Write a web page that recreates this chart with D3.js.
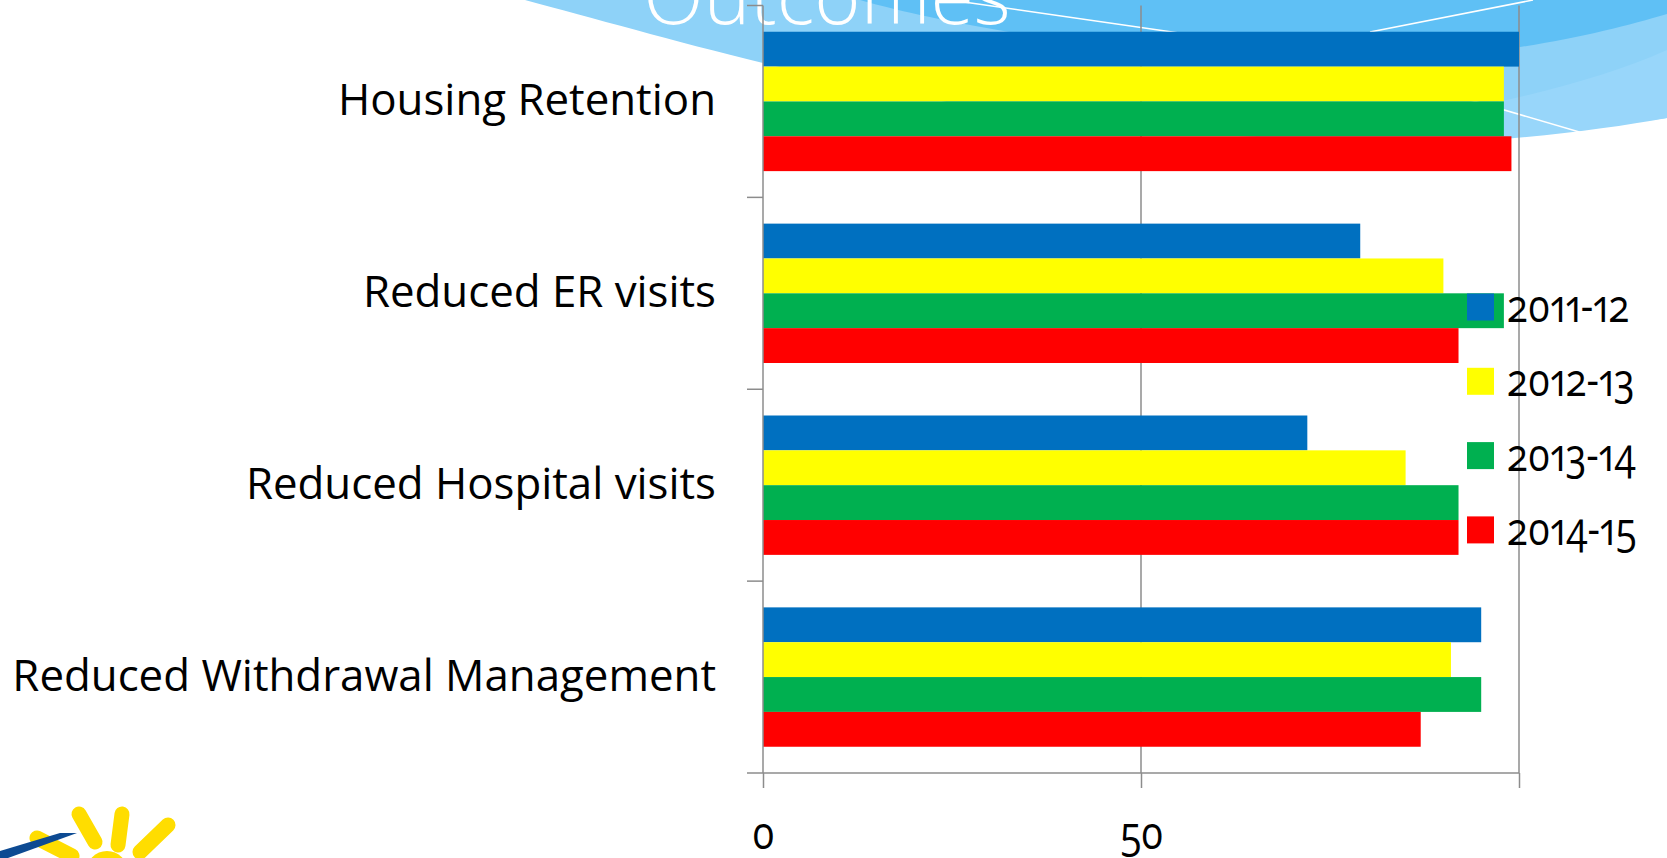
<!DOCTYPE html>
<html>
<head>
<meta charset="utf-8">
<script src="https://cdn.jsdelivr.net/npm/d3@7"></script>
<style>
  html, body { margin: 0; padding: 0; background: #fff; }
  svg { display: block; font-family: "Open Sans", "DejaVu Sans", sans-serif; }
</style>
</head>
<body>
<svg id="chart"></svg>
<script>
// ── DATA ─────────────────────────────────────────────────────────────────
const categories = [
  "Housing Retention",
  "Reduced ER visits",
  "Reduced Hospital visits",
  "Reduced Withdrawal Management"
];
const seriesNames = ["2011-12", "2012-13", "2013-14", "2014-15"];
const values2011 = [100, 79, 72, 95];
const values2012 = [98, 90, 85, 91];
const values2013 = [98, 98, 92, 95];
const values2014 = [99, 92, 92, 87];
const xTicks = [0, 50, 100];
const titleText = "Outcomes";

const COLORS = ["#0070c0", "#ffff00", "#00b050", "#ff0000"];
const GRID = "#8c8c8c";

// ── DIMENSIONS ───────────────────────────────────────────────────────────
const W = 1667, H = 858;
const plot = { left: 763, right: 1519, top: 5.5, bottom: 773 };

const svg = d3.select("#chart")
  .attr("width", W)
  .attr("height", H)
  .attr("viewBox", `0 0 ${W} ${H}`);

// ── BACKGROUND WAVE ──────────────────────────────────────────────────────
const bg = svg.append("g");
bg.append("path")
  .attr("d", "M525,0 C760,62 1150,190 1667,118 L1667,0 Z")
  .attr("fill", "#8ed2f8");
bg.append("path")
  .attr("d", "M1400,120 C1500,105 1600,80 1667,50 L1667,118 C1600,130 1520,140 1400,146 Z")
  .attr("fill", "#98d6fa");
bg.append("path")
  .attr("d", "M860,0 C1000,40 1300,80 1520,47 C1580,38 1630,25 1667,14 L1667,0 Z")
  .attr("fill", "#5fc0f5");
bg.append("path")
  .attr("d", "M950,0 L1200,36")
  .attr("stroke", "#fff").attr("stroke-width", 1.5).attr("fill", "none");
bg.append("path")
  .attr("d", "M1370,32 L1533,0")
  .attr("stroke", "#fff").attr("stroke-width", 1.5).attr("fill", "none");
bg.append("path")
  .attr("d", "M1460,97 L1593,136")
  .attr("stroke", "#fff").attr("stroke-width", 1.5).attr("fill", "none");

// title (cut off at the top)
svg.append("text")
  .attr("x", 827)
  .attr("y", 24)
  .attr("text-anchor", "middle")
  .attr("fill", "#fff")
  .style("font-size", "79px")
  .style("font-weight", 300)
  .text(titleText);

// ── LOGO (bottom left) ───────────────────────────────────────────────────
const logo = svg.append("g");
const rays = [
  [37, 838, 72, 856],
  [79, 814, 95, 842],
  [122, 814, 118, 845],
  [168, 825, 140, 852]
];
rays.forEach(r => {
  logo.append("line")
    .attr("x1", r[0]).attr("y1", r[1]).attr("x2", r[2]).attr("y2", r[3])
    .attr("stroke", "#ffdd00").attr("stroke-width", 15)
    .attr("stroke-linecap", "round");
});
logo.append("circle").attr("cx", 107).attr("cy", 872).attr("r", 21).attr("fill", "#ffdd00");
logo.append("polygon")
  .attr("points", "0,851 60,833 77,833 8,858 0,858")
  .attr("fill", "#0d4a92");

// ── SCALES ───────────────────────────────────────────────────────────────
const pad = 0.2736;
const y = d3.scaleBand()
  .domain(categories)
  .range([plot.top, plot.bottom])
  .paddingInner(pad)
  .paddingOuter(pad / 2);

const ySub = d3.scaleBand()
  .domain(seriesNames)
  .range([0, y.bandwidth()]);

const x = d3.scaleLinear()
  .domain([0, 100])
  .range([plot.left, plot.right]);

const g = svg.append("g");

// ── GRID ─────────────────────────────────────────────────────────────────
g.append("g")
  .selectAll("line")
  .data(xTicks.filter(d => d > 0))
  .join("line")
    .attr("x1", d => x(d)).attr("x2", d => x(d))
    .attr("y1", plot.top).attr("y2", plot.bottom)
    .attr("stroke", GRID).attr("stroke-width", 1.5);

// ── BARS ─────────────────────────────────────────────────────────────────
const seriesValues = [values2011, values2012, values2013, values2014];
const rows = [];
categories.forEach((c, i) => {
  seriesNames.forEach((s, j) => {
    rows.push({ cat: c, series: s, value: seriesValues[j][i], color: COLORS[j] });
  });
});

g.append("g")
  .selectAll("rect")
  .data(rows)
  .join("rect")
    .attr("x", x(0))
    .attr("y", d => y(d.cat) + ySub(d.series))
    .attr("width", d => x(d.value) - x(0))
    .attr("height", ySub.bandwidth())
    .attr("fill", d => d.color);

// ── AXES ─────────────────────────────────────────────────────────────────
// category labels
g.append("g")
  .attr("transform", `translate(${plot.left},0)`)
  .call(d3.axisLeft(y).tickSize(0).tickPadding(47))
  .call(ax => ax.select(".domain").remove())
  .call(ax => ax.selectAll(".tick text")
    .attr("fill", "#000")
    .style("font-family", "'Open Sans', sans-serif")
    .style("font-size", "43.8px"));

// vertical axis line + boundary ticks between categories
g.append("line")
  .attr("x1", plot.left).attr("x2", plot.left)
  .attr("y1", plot.top).attr("y2", plot.bottom)
  .attr("stroke", GRID).attr("stroke-width", 1.5);

const bounds = d3.range(categories.length + 1).map(i => plot.top + i * y.step());
g.append("g")
  .selectAll("line")
  .data(bounds)
  .join("line")
    .attr("x1", plot.left - 16).attr("x2", plot.left)
    .attr("y1", d => d).attr("y2", d => d)
    .attr("stroke", GRID).attr("stroke-width", 1.5);

// value axis
g.append("g")
  .attr("transform", `translate(0,${plot.bottom})`)
  .call(d3.axisBottom(x)
    .tickValues(xTicks)
    .tickSize(15)
    .tickFormat(d => d === 100 ? "" : d))
  .call(ax => ax.select(".domain")
    .attr("stroke", GRID).attr("stroke-width", 1.5)
    .attr("d", `M${plot.left},0H${plot.right}`))
  .call(ax => ax.selectAll(".tick line").attr("stroke", GRID).attr("stroke-width", 1.5))
  .call(ax => ax.selectAll(".tick text")
    .attr("fill", "#000")
    .attr("y", 76)
    .attr("dy", 0)
    .attr("transform", "scale(0.87,1)")
    .style("font-family", "'Open Sans', sans-serif")
    .style("font-variant-numeric", "oldstyle-nums")
    .style("font-size", "45px"));

// ── LEGEND ───────────────────────────────────────────────────────────────
const legend = svg.append("g").attr("transform", "translate(1467,307)");
const item = legend.selectAll("g")
  .data(seriesNames)
  .join("g")
    .attr("transform", (d, i) => `translate(0,${i * 74.3})`);
item.append("rect")
  .attr("x", 0).attr("y", -13.5)
  .attr("width", 27).attr("height", 27)
  .attr("fill", (d, i) => COLORS[i]);
item.append("text")
  .attr("transform", "translate(40,15) scale(0.86,1)")
  .style("font-size", "45px")
  .style("font-variant-numeric", "oldstyle-nums proportional-nums")
  .attr("fill", "#000")
  .text(d => d);
</script>
</body>
</html>
